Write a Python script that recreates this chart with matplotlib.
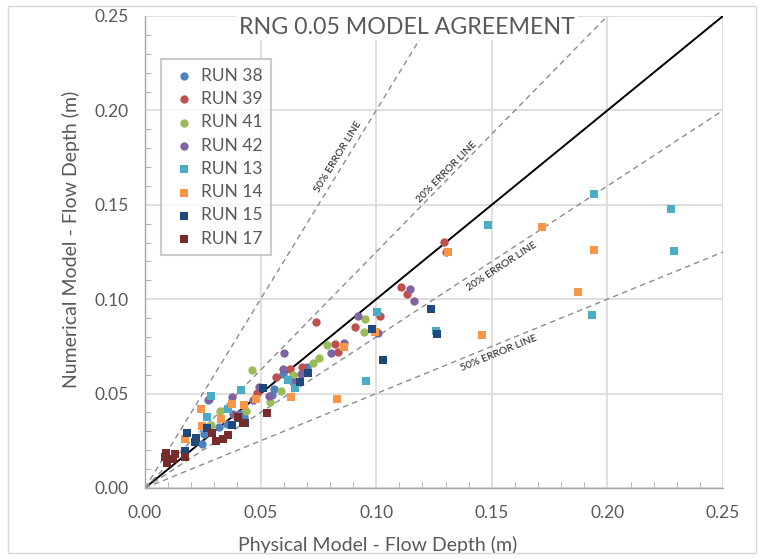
import numpy as np
import matplotlib
matplotlib.use("Agg")
import matplotlib.pyplot as plt
from matplotlib.patches import Rectangle

plt.rcParams['font.family'] = ['Lato', 'DejaVu Sans']

# physical (x) vs numerical (y) flow depth, m
run38_x = [0.0272, 0.0255, 0.0247, 0.0320, 0.0355, 0.0411, 0.0428, 0.0550, 0.0558, 0.0597, 0.0701]
run38_y = [0.0466, 0.0286, 0.0233, 0.0323, 0.0339, 0.0392, 0.0376, 0.0493, 0.0524, 0.0604, 0.0641]

run39_x = [0.0484, 0.0567, 0.0627, 0.0679, 0.0740, 0.0822, 0.0835, 0.0908, 0.1016, 0.1107, 0.1133, 0.1293, 0.1300]
run39_y = [0.0503, 0.0588, 0.0630, 0.0641, 0.0879, 0.0763, 0.0720, 0.0853, 0.0911, 0.1065, 0.1028, 0.1303, 0.1250]

run41_x = [0.0463, 0.0324, 0.0437, 0.0285, 0.0541, 0.0588, 0.0640, 0.0727, 0.0753, 0.0787, 0.0947, 0.0951]
run41_y = [0.0625, 0.0408, 0.0408, 0.0334, 0.0456, 0.0514, 0.0599, 0.0662, 0.0689, 0.0757, 0.0826, 0.0895]

run42_x = [0.0277, 0.0376, 0.0380, 0.0467, 0.0493, 0.0536, 0.0597, 0.0601, 0.0640, 0.0675,
           0.0804, 0.0861, 0.0921, 0.1008, 0.1146, 0.1163]
run42_y = [0.0471, 0.0482, 0.0392, 0.0466, 0.0535, 0.0487, 0.0630, 0.0715, 0.0561, 0.0604,
           0.0715, 0.0768, 0.0911, 0.0821, 0.1054, 0.0990]

run13_x = [0.0285, 0.0415, 0.0268, 0.0359, 0.0619, 0.0649, 0.0956, 0.1003, 0.1259, 0.1484,
           0.1933, 0.1942, 0.2275, 0.2288]
run13_y = [0.0487, 0.0519, 0.0376, 0.0418, 0.0572, 0.0530, 0.0567, 0.0932, 0.0832, 0.1393,
           0.0916, 0.1557, 0.1478, 0.1255]

run14_x = [0.0173, 0.0242, 0.0247, 0.0329, 0.0376, 0.0428, 0.0480, 0.0631, 0.0830, 0.0861,
           0.0995, 0.1311, 0.1458, 0.1717, 0.1873, 0.1942]
run14_y = [0.0260, 0.0418, 0.0328, 0.0365, 0.0445, 0.0440, 0.0471, 0.0482, 0.0471, 0.0747,
           0.0826, 0.1250, 0.0810, 0.1382, 0.1038, 0.1261]

run15_x = [0.0173, 0.0182, 0.0216, 0.0221, 0.0268, 0.0376, 0.0402, 0.0433, 0.0510, 0.0670,
           0.0705, 0.0982, 0.1029, 0.1237, 0.1263]
run15_y = [0.0196, 0.0291, 0.0244, 0.0265, 0.0318, 0.0334, 0.0371, 0.0344, 0.0530, 0.0561,
           0.0609, 0.0842, 0.0678, 0.0948, 0.0816]

run17_x = [0.0087, 0.0091, 0.0095, 0.0121, 0.0130, 0.0173, 0.0290, 0.0307, 0.0337, 0.0359,
           0.0402, 0.0424, 0.0528]
run17_y = [0.0164, 0.0185, 0.0132, 0.0154, 0.0180, 0.0164, 0.0291, 0.0249, 0.0260, 0.0281,
           0.0376, 0.0344, 0.0397]

series = [
    ('RUN 38', run38_x, run38_y, '#4F81BD', 'o'),
    ('RUN 39', run39_x, run39_y, '#C0504D', 'o'),
    ('RUN 41', run41_x, run41_y, '#9BBB59', 'o'),
    ('RUN 42', run42_x, run42_y, '#8064A2', 'o'),
    ('RUN 13', run13_x, run13_y, '#4BACC6', 's'),
    ('RUN 14', run14_x, run14_y, '#F79646', 's'),
    ('RUN 15', run15_x, run15_y, '#1F497D', 's'),
    ('RUN 17', run17_x, run17_y, '#772C2A', 's'),
]

# error bands: y = k * x
error_lines = [(2.0, '50% ERROR LINE', 0.0835, 0.1753),
               (1.25, '20% ERROR LINE', 0.1306, 0.1674),
               (0.8, '20% ERROR LINE', 0.1544, 0.1171),
               (0.5, '50% ERROR LINE', 0.1531, 0.0715)]

fig = plt.figure(figsize=(7.64, 5.59), dpi=100)
ax = fig.add_axes([145/764, 71/559, 578/764, 472/559])

lim = 0.25
xs = np.array([0, lim])
ax.plot(xs, xs, color='black', lw=1.4, zorder=2)
for k, lbl, tx, ty in error_lines:
    ax.plot(xs, k*xs, color='#8C8C8C', lw=1.0, ls=(0, (4, 3)), zorder=2)
    ax.text(tx, ty, lbl, fontsize=7.5, color='#202020', ha='center', va='center',
            rotation=np.degrees(np.arctan(k)), rotation_mode='anchor',
            transform_rotates_text=True, zorder=2)

for name, x, y, c, m in series:
    ax.scatter(x, y, s=36 if m == 'o' else 30, marker=m, color=c, linewidths=0,
               label=name, zorder=3)

ax.set_xlim(0, lim)
ax.set_ylim(0, lim)
ticks = np.arange(0, 0.2501, 0.05)
ax.set_xticks(ticks)
ax.set_yticks(ticks)
ax.set_xticklabels(['%.2f' % t for t in ticks])
ax.set_yticklabels(['%.2f' % t for t in ticks])
ax.set_xticks(np.arange(0, 0.2501, 0.01), minor=True)
ax.set_yticks(np.arange(0, 0.2501, 0.01), minor=True)
ax.tick_params(which='both', direction='in', color='#A6A6A6', labelsize=12.5,
               labelcolor='#595959')
ax.tick_params(which='major', length=0, pad=12)
ax.tick_params(which='minor', length=4)
ax.grid(True, which='major', color='#D9D9D9', lw=1.2, zorder=0)
ax.set_axisbelow(True)
for s in ['top', 'right']:
    ax.spines[s].set_visible(False)
for s in ['left', 'bottom']:
    ax.spines[s].set_color('#A6A6A6')
    ax.spines[s].set_linewidth(1.0)

ax.set_xlabel('Physical Model - Flow Depth (m)', fontsize=14, color='#595959')
ax.set_ylabel('Numerical Model - Flow Depth (m)', fontsize=14, color='#595959')
ax.xaxis.set_label_coords((378-145)/578, -(536-488)/472)
ax.yaxis.set_label_coords(-(145-80)/578, (488-239)/472)

ax.text((407-145)/578, (488-27)/472, 'RNG 0.05 MODEL AGREEMENT', transform=ax.transAxes,
        fontsize=16.7, color='#595959', ha='center', va='center', zorder=4,
        bbox=dict(facecolor='white', edgecolor='none', pad=2))

leg = ax.legend(loc='upper left', bbox_to_anchor=((161-145)/578, (488-59)/472),
                frameon=True, fancybox=False, fontsize=12.5, labelspacing=0.42,
                handletextpad=0.2, borderpad=0.5, handlelength=1.6, scatterpoints=1,
                borderaxespad=0)
leg.get_frame().set_edgecolor('#BFBFBF')
leg.get_frame().set_linewidth(1.5)
for t in leg.get_texts():
    t.set_color('#595959')

fig.patches.append(Rectangle((8/764, 6/559), 748/764, 547/559, transform=fig.transFigure,
                             fill=False, edgecolor='#D9D9D9', lw=1))

fig.savefig('out.png', dpi=100)
